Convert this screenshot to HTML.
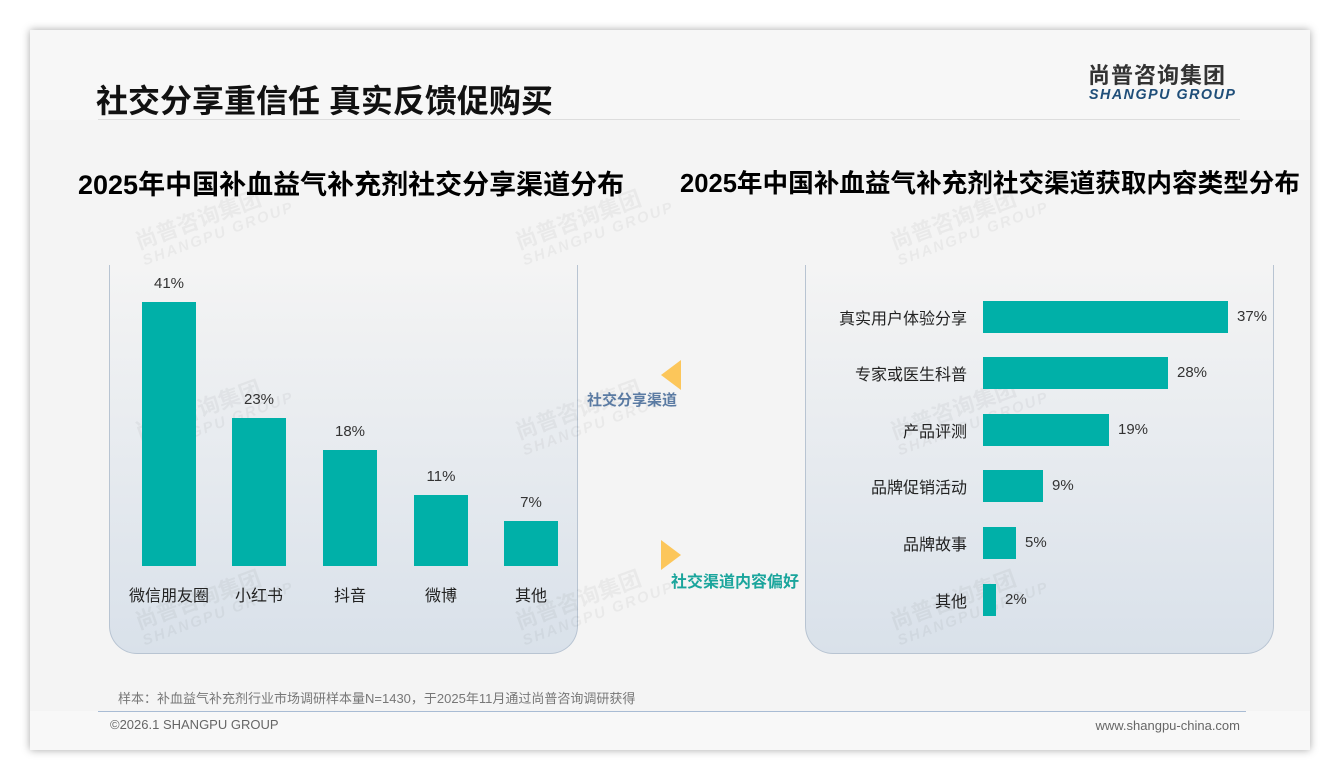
<!DOCTYPE html>
<html><head><meta charset="utf-8"><style>
*{margin:0;padding:0;box-sizing:border-box}
body{width:1340px;height:780px;background:#fff;position:relative;overflow:hidden;font-family:"Liberation Sans","Noto Sans CJK SC",sans-serif}
.card{position:absolute;left:30px;top:30px;width:1280px;height:720px;background:#f4f4f4;box-shadow:0 0 8px rgba(0,0,0,.35)}
.a{position:absolute;white-space:nowrap}
.panel{position:absolute;top:265px;width:469px;height:389px;border:1px solid #b8c4d2;border-top:none;border-radius:0 0 28px 28px;background:linear-gradient(#f4f4f4,#d9e1ea)}
.bar{position:absolute;background:#00b0a8}
.lbl{font-size:15px;color:#333}
.rl{font-size:16px;color:#222}
.wm{position:absolute;color:rgba(0,0,0,.045);font-weight:bold;transform:rotate(-20deg);font-size:22px;line-height:20px;white-space:nowrap}
.wm span{display:block;font-size:15px;letter-spacing:2px;font-style:italic}
</style></head><body>
<div class="card"></div>
<div class="a" style="left:30px;top:30px;width:1280px;height:90px;background:#f7f7f7"></div>
<div class="a" style="left:96px;top:76px;font-size:32px;font-weight:bold;color:#111">社交分享重信任 真实反馈促购买</div>
<div class="a" style="left:98px;top:119px;width:1142px;height:1px;background:#ddd"></div>
<div class="a" style="left:1088px;top:58px;font-size:22px;font-weight:bold;color:#333;letter-spacing:1px">尚普咨询集团</div>
<div class="a" style="left:1089px;top:87px;font-size:14.3px;font-weight:bold;font-style:italic;color:#1f4e79;letter-spacing:1.5px">SHANGPU GROUP</div>
<div class="a" style="left:78px;top:163px;font-size:27px;font-weight:bold;color:#000">2025年中国补血益气补充剂社交分享渠道分布</div>
<div class="a" style="left:680px;top:163px;font-size:25.6px;font-weight:bold;color:#000">2025年中国补血益气补充剂社交渠道获取内容类型分布</div>
<div class="panel" style="left:109px"></div>
<div class="panel" style="left:805px"></div>
<div class="wm" style="left:135px;top:205px">尚普咨询集团<span>SHANGPU GROUP</span></div>
<div class="wm" style="left:515px;top:205px">尚普咨询集团<span>SHANGPU GROUP</span></div>
<div class="wm" style="left:890px;top:205px">尚普咨询集团<span>SHANGPU GROUP</span></div>
<div class="wm" style="left:135px;top:395px">尚普咨询集团<span>SHANGPU GROUP</span></div>
<div class="wm" style="left:515px;top:395px">尚普咨询集团<span>SHANGPU GROUP</span></div>
<div class="wm" style="left:890px;top:395px">尚普咨询集团<span>SHANGPU GROUP</span></div>
<div class="wm" style="left:135px;top:585px">尚普咨询集团<span>SHANGPU GROUP</span></div>
<div class="wm" style="left:515px;top:585px">尚普咨询集团<span>SHANGPU GROUP</span></div>
<div class="wm" style="left:890px;top:585px">尚普咨询集团<span>SHANGPU GROUP</span></div>

<div class="bar" style="left:142px;top:302px;width:54px;height:264px"></div>
<div class="bar" style="left:232px;top:418px;width:54px;height:148px"></div>
<div class="bar" style="left:323px;top:450px;width:54px;height:116px"></div>
<div class="bar" style="left:414px;top:495px;width:54px;height:71px"></div>
<div class="bar" style="left:504px;top:521px;width:54px;height:45px"></div>
<div class="a lbl" style="left:142px;width:54px;text-align:center;top:275px">41%</div>
<div class="a lbl" style="left:232px;width:54px;text-align:center;top:391px">23%</div>
<div class="a lbl" style="left:323px;width:54px;text-align:center;top:423px">18%</div>
<div class="a lbl" style="left:414px;width:54px;text-align:center;top:468px">11%</div>
<div class="a lbl" style="left:504px;width:54px;text-align:center;top:494px">7%</div>
<div class="a rl" style="left:119px;width:100px;text-align:center;top:582px">微信朋友圈</div>
<div class="a rl" style="left:209px;width:100px;text-align:center;top:582px">小红书</div>
<div class="a rl" style="left:300px;width:100px;text-align:center;top:582px">抖音</div>
<div class="a rl" style="left:391px;width:100px;text-align:center;top:582px">微博</div>
<div class="a rl" style="left:481px;width:100px;text-align:center;top:582px">其他</div>

<div class="a" style="left:661px;top:360px;width:0;height:0;border-top:15px solid transparent;border-bottom:15px solid transparent;border-right:20px solid #fcc65a"></div>
<div class="a" style="left:587px;top:389px;font-size:15px;font-weight:bold;color:#5b7ba3">社交分享渠道</div>
<div class="a" style="left:661px;top:540px;width:0;height:0;border-top:15px solid transparent;border-bottom:15px solid transparent;border-left:20px solid #fcc65a"></div>
<div class="a" style="left:671px;top:568px;font-size:16px;font-weight:bold;color:#1aa59c">社交渠道内容偏好</div>

<div class="bar" style="left:983px;top:301px;width:245px;height:32px"></div>
<div class="bar" style="left:983px;top:357px;width:185px;height:32px"></div>
<div class="bar" style="left:983px;top:414px;width:126px;height:32px"></div>
<div class="bar" style="left:983px;top:470px;width:60px;height:32px"></div>
<div class="bar" style="left:983px;top:527px;width:33px;height:32px"></div>
<div class="bar" style="left:983px;top:584px;width:13px;height:32px"></div>
<div class="a rl" style="right:373px;top:305px">真实用户体验分享</div>
<div class="a rl" style="right:373px;top:361px">专家或医生科普</div>
<div class="a rl" style="right:373px;top:418px">产品评测</div>
<div class="a rl" style="right:373px;top:474px">品牌促销活动</div>
<div class="a rl" style="right:373px;top:531px">品牌故事</div>
<div class="a rl" style="right:373px;top:588px">其他</div>
<div class="a lbl" style="left:1237px;top:308px">37%</div>
<div class="a lbl" style="left:1177px;top:364px">28%</div>
<div class="a lbl" style="left:1118px;top:421px">19%</div>
<div class="a lbl" style="left:1052px;top:477px">9%</div>
<div class="a lbl" style="left:1025px;top:534px">5%</div>
<div class="a lbl" style="left:1005px;top:591px">2%</div>

<div class="a" style="left:118px;top:688px;font-size:13px;color:#777">样本：补血益气补充剂行业市场调研样本量N=1430，于2025年11月通过尚普咨询调研获得</div>
<div class="a" style="left:30px;top:711px;width:1280px;height:39px;background:#f8f8f8"></div>
<div class="a" style="left:98px;top:711px;width:1148px;height:1px;background:#a9bcd4"></div>
<div class="a" style="left:110px;top:717px;font-size:13px;color:#666">©2026.1 SHANGPU GROUP</div>
<div class="a" style="right:100px;top:718px;font-size:13px;color:#666">www.shangpu-china.com</div>
</body></html>
